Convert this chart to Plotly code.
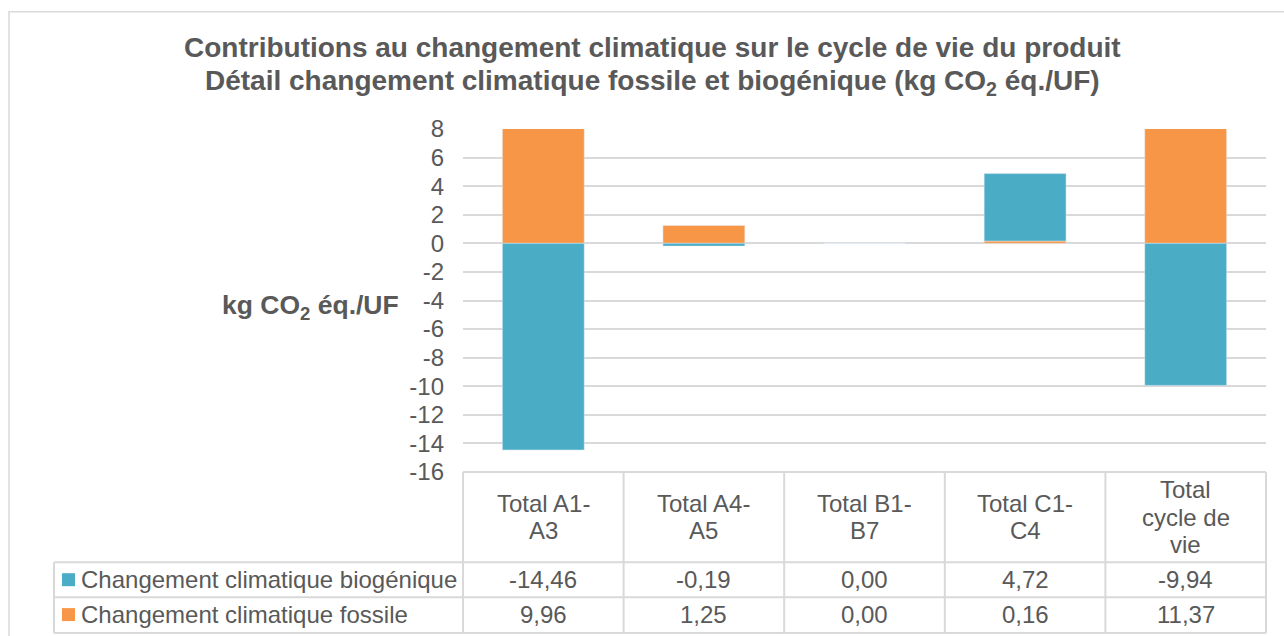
import plotly.graph_objects as go

# ---- data ----
categories = ["Total A1-A3", "Total A4-A5", "Total B1-B7", "Total C1-C4", "Total cycle de vie"]
header_lines = [["Total A1-", "A3"], ["Total A4-", "A5"], ["Total B1-", "B7"],
                ["Total C1-", "C4"], ["Total", "cycle de", "vie"]]
biogenique = [-14.46, -0.19, 0.00, 4.72, -9.94]
fossile = [9.96, 1.25, 0.00, 0.16, 11.37]
series_names = ["Changement climatique biogénique", "Changement climatique fossile"]
y_ticks = list(range(-16, 9, 2))
title_lines = ["Contributions au changement climatique sur le cycle de vie du produit",
               "Détail changement climatique fossile et biogénique (kg CO<sub>2</sub> éq./UF)"]

BLUE = "#4BACC6"
ORANGE = "#F79646"
TXT = "#595959"
GRID = "#D9D9D9"
FONT = "Arial, Liberation Sans, sans-serif"

W, H = 1284, 636
X0, X1 = 463, 1266      # plot area in px
Y0, Y1 = 128.5, 472.5


def px(x):
    return (x - X0) / (X1 - X0)


def py(y):
    return (Y1 - y) / (Y1 - Y0)


fig = go.Figure()
fig.add_trace(go.Bar(x=categories, y=fossile, name=series_names[1], marker_color=ORANGE,
                     width=0.51, showlegend=False))
fig.add_trace(go.Bar(x=categories, y=biogenique, name=series_names[0], marker_color=BLUE,
                     width=0.51, showlegend=False))

shapes = []
annotations = []

# hide top gridline (at 8)
shapes.append(dict(type="line", xref="paper", yref="y", x0=0, x1=1, y0=y_ticks[-1], y1=y_ticks[-1],
                   line=dict(color="white", width=3), layer="below"))

# outer chart border
shapes.append(dict(type="rect", xref="paper", yref="paper", x0=px(9), x1=px(1300), y0=py(11), y1=py(660),
                   line=dict(color=GRID, width=1.5), layer="above"))

# data table grid
n = len(categories)
colw = (X1 - X0) / n
LEFT = 54
row_tops = [472.5, 563, 598, 634]
line_style = dict(color=GRID, width=2)
shapes.append(dict(type="line", xref="paper", yref="paper", x0=px(X0), x1=px(X1), y0=py(472.5), y1=py(472.5), line=line_style))
for yy in row_tops[1:]:
    shapes.append(dict(type="line", xref="paper", yref="paper", x0=px(LEFT), x1=px(X1), y0=py(yy), y1=py(yy), line=line_style))
for i in range(n + 1):
    xx = X0 + i * colw
    shapes.append(dict(type="line", xref="paper", yref="paper", x0=px(xx), x1=px(xx), y0=py(472.5), y1=py(634), line=line_style))
shapes.append(dict(type="line", xref="paper", yref="paper", x0=px(LEFT), x1=px(LEFT), y0=py(563), y1=py(634), line=line_style))

# header text
for i, lines in enumerate(header_lines):
    cx = X0 + (i + 0.5) * colw
    m = len(lines)
    center = (472.5 + 563) / 2
    step = 27.5
    for k, t in enumerate(lines):
        yy = center + (k - (m - 1) / 2) * step
        annotations.append(dict(x=px(cx), y=py(yy), xref="paper", yref="paper", text=t, showarrow=False,
                                xanchor="center", yanchor="middle", font=dict(size=24, color=TXT, family=FONT)))


def fmt(v):
    return f"{v:.2f}".replace(".", ",")


rows = [(series_names[0], BLUE, biogenique, 580.5), (series_names[1], ORANGE, fossile, 615.5)]
for name, col, vals, yy in rows:
    shapes.append(dict(type="rect", xref="paper", yref="paper", x0=px(62), x1=px(75), y0=py(yy - 6.5), y1=py(yy + 6.5),
                       fillcolor=col, line=dict(width=0)))
    annotations.append(dict(x=px(79), y=py(yy), xref="paper", yref="paper", text=name, showarrow=False,
                            xanchor="left", yanchor="middle", font=dict(size=24, color=TXT, family=FONT)))
    for i, v in enumerate(vals):
        cx = X0 + (i + 0.5) * colw
        annotations.append(dict(x=px(cx), y=py(yy), xref="paper", yref="paper", text=fmt(v), showarrow=False,
                                xanchor="center", yanchor="middle", font=dict(size=24, color=TXT, family=FONT)))

# title lines
for t, yy in zip(title_lines, [47, 82]):
    annotations.append(dict(x=px(652), y=py(yy), xref="paper", yref="paper", text="<b>" + t + "</b>",
                            showarrow=False, xanchor="center", yanchor="middle",
                            font=dict(size=28, color=TXT, family=FONT)))

# y axis title
annotations.append(dict(x=px(310), y=py(307), xref="paper", yref="paper", text="<b>kg CO<sub>2</sub> éq./UF</b>",
                        showarrow=False, xanchor="center", yanchor="middle", font=dict(size=26.5, color=TXT, family=FONT)))

fig.update_layout(
    width=W, height=H,
    margin=dict(l=X0, r=W - X1, t=Y0, b=H - Y1),
    paper_bgcolor="white", plot_bgcolor="white",
    barmode="relative",
    xaxis=dict(showticklabels=False, showgrid=False, zeroline=False, showline=False, ticks=""),
    yaxis=dict(range=[y_ticks[0], y_ticks[-1]], tickvals=y_ticks, ticktext=[str(t) for t in y_ticks],
               showgrid=True, gridcolor=GRID, gridwidth=2, zeroline=False, showline=False,
               ticks="", ticklabelstandoff=18, tickfont=dict(size=24, color=TXT, family=FONT)),
    shapes=shapes, annotations=annotations,
    showlegend=False,
)

fig.write_html("out.html", config={"displayModeBar": False},
               post_script="document.body.style.margin='0';document.body.style.overflow='hidden';")
